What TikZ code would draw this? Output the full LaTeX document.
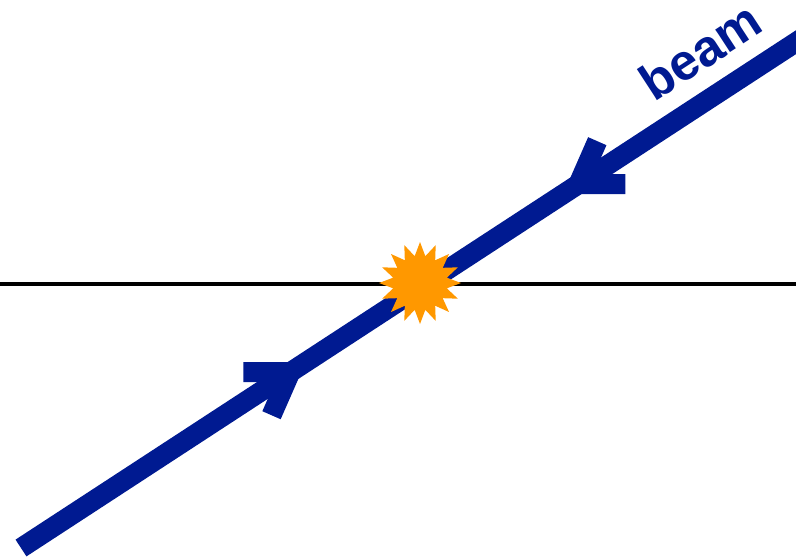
\documentclass[tikz,border=0pt]{standalone}
\usepackage{fontspec}
\setmainfont{Liberation Sans}
\usetikzlibrary{calc,shapes.geometric}

\begin{document}
\begin{tikzpicture}
% beam crossing sketch, coordinates in pixels of the source figure
\def\pxsz{0.5pt}
\definecolor{beamblue}{RGB}{0,26,145}
\definecolor{flashorange}{RGB}{255,152,0}
\providecommand{\axisLineWidth}{4.5*\pxsz}
\providecommand{\beamLineWidth}{20*\pxsz}
\begin{scope}[x=\pxsz, y=\pxsz,
    beamline/.style={draw=beamblue, line width=\beamLineWidth, line cap=butt, line join=miter},
    axisline/.style={draw=black, line width=\axisLineWidth},
    flash/.style={star, star points=16, star point ratio=1.5, fill=flashorange,
      inner sep=0pt, minimum size=82*\pxsz},
    beamlabel/.style={text=beamblue, inner sep=0pt, rotate=33.1,
      font=\bfseries\fontsize{25.5}{25.5}\selectfont}]
  % Frame
  \useasboundingbox (0,0) rectangle (796,558);
  % Anchors
  \coordinate (axisleft) at (0,274);
  \coordinate (axisright) at (796,274);
  \coordinate (beamstart) at (21,10);
  \coordinate (beamend) at (830,538);
  \coordinate (tipin) at ($(beamstart)!0.333!(beamend)$);
  \coordinate (tipout) at ($(beamstart)!0.689!(beamend)$);
  % Horizontal axis
  \draw[axisline] (axisleft) -- (axisright);
  % Beam
  \draw[beamline] (beamstart) -- (beamend);
  % Direction marks
  \draw[beamline] ($(tipin)+(180:47)$) -- (tipin) -- ($(tipin)+(246.3:47)$);
  \draw[beamline] ($(tipout)+(0:47)$) -- (tipout) -- ($(tipout)+(66.3:47)$);
  % Interaction point
  \node[flash] (ip) at (420,275) {};
  % Label
  \node[beamlabel] (beamname) at (700,507) {beam};
\end{scope}
\end{tikzpicture}
\end{document}
